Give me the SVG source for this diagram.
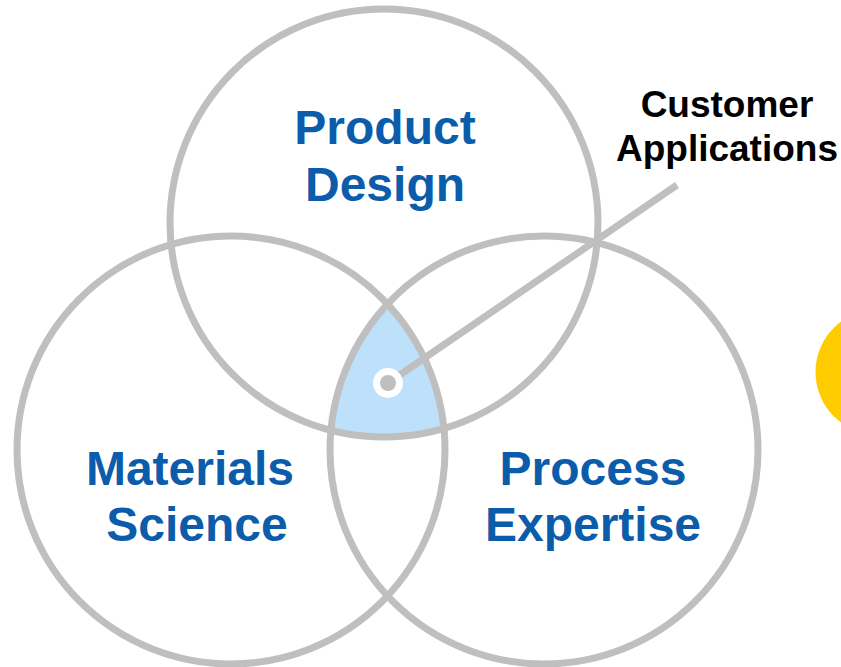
<svg xmlns="http://www.w3.org/2000/svg" width="841" height="667" viewBox="0 0 841 667">
  <style>
    .ring { fill: none; stroke: #BFBFBF; stroke-width: 7; }
    .big { font-family: "Liberation Sans", Arial, sans-serif; font-weight: bold; font-size: 48px; fill: #0B5CAB; text-anchor: middle; }
    .callout { font-family: "Liberation Sans", Arial, sans-serif; font-weight: bold; font-size: 37px; fill: #000; text-anchor: middle; }
  </style>
  <defs>
    <clipPath id="clipTop"><circle cx="384" cy="223" r="214"/></clipPath>
    <clipPath id="clipLeft"><circle cx="231" cy="450" r="214"/></clipPath>
  </defs>
  <rect width="841" height="667" fill="#FFFFFF"/>

  <!-- yellow accent at right edge -->
  <circle cx="878" cy="372" r="62.5" fill="#FFCC00"/>

  <!-- shared centre region -->
  <g id="overlap">
    <g clip-path="url(#clipTop)">
      <g clip-path="url(#clipLeft)">
        <circle cx="544" cy="450" r="214" fill="#BDE0FB"/>
      </g>
    </g>
  </g>

  <g id="product-design">
    <circle class="ring" cx="384" cy="223" r="214"/>
    <text class="big" x="385" y="144">Product</text>
    <text class="big" x="385" y="201">Design</text>
  </g>
  <g id="materials-science">
    <circle class="ring" cx="231" cy="450" r="214"/>
    <text class="big" x="190" y="485">Materials</text>
    <text class="big" x="197" y="541">Science</text>
  </g>
  <g id="process-expertise">
    <circle class="ring" cx="544" cy="450" r="214"/>
    <text class="big" x="593" y="485">Process</text>
    <text class="big" x="593" y="541">Expertise</text>
  </g>

  <g id="connectors">
    <line x1="388" y1="383" x2="677" y2="185" stroke="#BFBFBF" stroke-width="7"/>
    <circle cx="388" cy="383" r="15" fill="#FFFFFF"/>
    <circle cx="388" cy="383" r="8" fill="#BFBFBF"/>
  </g>

  <g id="customer-applications">
    <text class="callout" x="727" y="117">Customer</text>
    <text class="callout" x="727" y="161">Applications</text>
  </g>
</svg>
